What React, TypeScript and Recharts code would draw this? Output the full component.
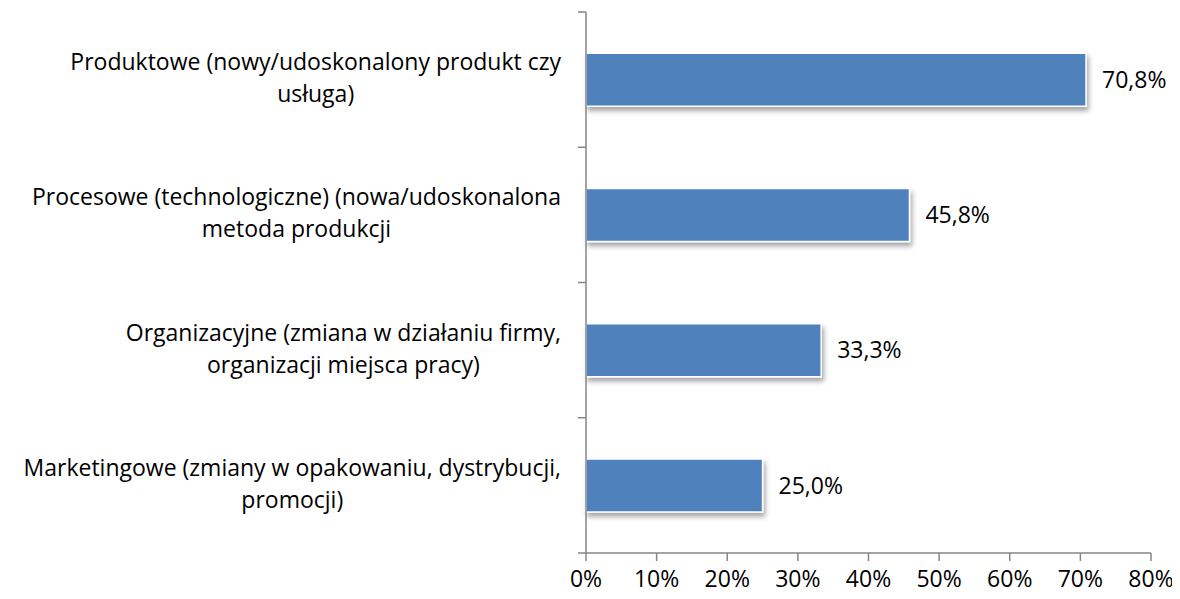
import { Bar, BarChart, LabelList, XAxis, YAxis } from "recharts";

const categories = [
  ["Produktowe (nowy/udoskonalony produkt czy", "usługa)"],
  ["Procesowe (technologiczne) (nowa/udoskonalona", "metoda produkcji"],
  ["Organizacyjne (zmiana w działaniu firmy,", "organizacji miejsca pracy)"],
  ["Marketingowe (zmiany w opakowaniu, dystrybucji,", "promocji)"],
];
const shares = [70.8, 45.8, 33.3, 25.0];
const xTicks = [0, 10, 20, 30, 40, 50, 60, 70, 80];

const FONT = "'Open Sans', sans-serif";
const FONT_SIZE = 23;
const AXIS = "#868686";
const LABEL_GAP = 25;
const EDGE_TICK = 8;

const data = categories.map((lines, i) => ({ name: lines.join("\n"), value: shares[i] }));

let ctx: CanvasRenderingContext2D | null = null;
function textWidth(s: string) {
  if (!ctx) ctx = document.createElement("canvas").getContext("2d");
  if (!ctx) return s.length * 11;
  ctx.font = `${FONT_SIZE}px 'Open Sans'`;
  return ctx.measureText(s).width;
}

// category label, centred lines; tick marks sit on the band edges like in Excel
function CategoryTick(props: any) {
  const { x, y, payload, index, visibleTicksCount } = props;
  const lines: string[] = String(payload.value).split("\n");
  const widest = Math.max(...lines.map(textWidth));
  const cx = x - widest / 2;
  const step = 32;
  const first = y - ((lines.length - 1) * step) / 2;
  const half = Number(payload.offset) || 0;
  const axisX = x + LABEL_GAP;
  const edges = [y - half];
  if (index === visibleTicksCount - 1) edges.push(y + half);
  return (
    <g>
      {half > 0 &&
        edges.map((ey, i) => (
          <line key={i} x1={axisX - EDGE_TICK} x2={axisX} y1={ey} y2={ey} stroke={AXIS} strokeWidth={1.5} />
        ))}
      <text textAnchor="middle" fontFamily={FONT} fontSize={FONT_SIZE} fill="#000">
        {lines.map((l, i) => (
          <tspan key={i} x={cx} y={first + i * step} dy="0.28em">
            {l}
          </tspan>
        ))}
      </text>
    </g>
  );
}

function ShadowBar(props: any) {
  const { x, y, width, height } = props;
  return (
    <rect
      x={x}
      y={y}
      width={width}
      height={height}
      fill="#4F81BD"
      stroke="#ffffff"
      strokeWidth={1.5}
      filter="url(#barShadow)"
    />
  );
}

const axisStroke = { stroke: AXIS, strokeWidth: 1.5 };
const tickFont = { fill: "#000", fontFamily: FONT, fontSize: FONT_SIZE };
const catTick = <CategoryTick />;
const fmtPct = (v: any) => `${v}%`;
const fmtLabel = (v: any) => `${Number(v).toFixed(1).replace(".", ",")}%`;

export default function App() {
  return (
    <div>
      <svg width={0} height={0} style={{ position: "absolute" }}>
        <defs>
          <filter id="barShadow" x="-5%" y="-20%" width="115%" height="170%">
            <feDropShadow dx="2" dy="4" stdDeviation="2.5" floodColor="#000" floodOpacity="0.35" />
          </filter>
        </defs>
      </svg>
      <BarChart
        width={1172}
        height={591}
        data={data}
        layout="vertical"
        margin={{ top: 4, right: 29, bottom: 0, left: 0 }}
        barCategoryGap="30.5%"
      >
        <XAxis
          type="number"
          domain={[0, 80]}
          ticks={xTicks}
          tickFormatter={fmtPct}
          height={46}
          stroke={AXIS}
          axisLine={axisStroke}
          tickLine={axisStroke}
          tickSize={8}
          tickMargin={10}
          tick={tickFont}
          interval={0}
        />
        <YAxis
          type="category"
          dataKey="name"
          width={578}
          axisLine={axisStroke}
          tickLine={false}
          tickSize={0}
          tickMargin={LABEL_GAP}
          tick={catTick}
          interval={0}
        />
        <Bar dataKey="value" shape={<ShadowBar />} isAnimationActive={false}>
          <LabelList
            dataKey="value"
            position="right"
            offset={16}
            formatter={fmtLabel}
            style={tickFont}
          />
        </Bar>
      </BarChart>
    </div>
  );
}
